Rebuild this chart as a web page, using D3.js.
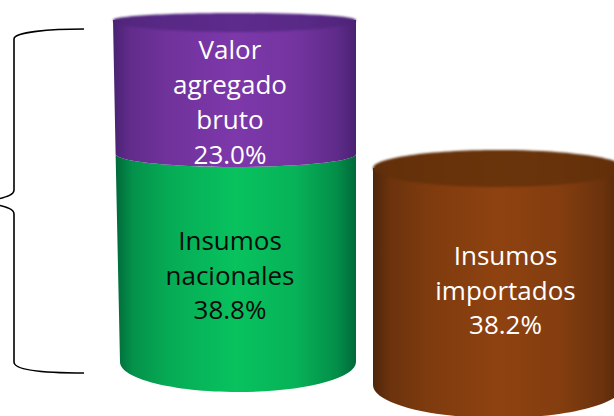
<!DOCTYPE html>
<html><head><meta charset="utf-8">
<script src="https://cdn.jsdelivr.net/npm/d3@7"></script>
<style>html,body{margin:0;padding:0;background:#fff;overflow:hidden}svg{display:block}text{font-family:"Open Sans",sans-serif}</style>
</head><body><svg id="c" width="614" height="416"></svg>
<script>
const stackLabels=[["Insumos","nacionales","38.8%"],["Valor","agregado","bruto","23.0%"]];
const stackValues=[38.8,23.0];
const soloLabels=[["Insumos","importados","38.2%"]];
const soloValues=[38.2];
const stackColors=[["#00693a","#08c25e"],["#4a2272","#7d38aa"]];
const soloColors=[["#4f260a","#8f4210"]];
const lidColors=[["#4c2374","#5d2b8c"],["#5e2d09","#6a340b"]];

const svg=d3.select("#c"),defs=svg.append("defs");
defs.append("filter").attr("id","soft").attr("x","-5%").attr("y","-20%").attr("width","110%").attr("height","140%")
  .attr("color-interpolation-filters","sRGB")
  .append("feGaussianBlur").attr("stdDeviation",0.9);
function grad(id,[d,l]){
  const mix=d3.interpolateRgb(d,l);
  const g=defs.append("linearGradient").attr("id",id);
  [[0,d],[.07,mix(.45)],[.22,mix(.74)],[.5,l],[.75,mix(.82)],[.92,mix(.42)],[1,d]].forEach(([o,c])=>g.append("stop").attr("offset",o).attr("stop-color",c));
}
function cylinder(cfg){
  const knots=d3.cumsum([0,...cfg.values]);
  const total=knots[knots.length-1];
  const y=d3.scaleLinear().domain(knots).range(cfg.levelY);
  const xL=d3.scaleLinear().domain([0,total]).range([cfg.baseL,cfg.topL]);
  const xR=d3.scaleLinear().domain([0,total]).range([cfg.baseR,cfg.topR]);
  const dip=d3.scaleLinear().domain(knots).range(cfg.levelDip);
  const k=.5523;
  cfg.values.forEach((v,i)=>{
    const a=knots[i],b=knots[i+1];
    const id=cfg.id+i;grad(id,cfg.colors[i]);
    const arc=(val,dir)=>{
      const l=xL(val),r=xR(val),m=(l+r)/2,h=(r-l)/2,yy=y(val),d=dip(val);
      return dir>0
       ?`C${l},${yy+d*k} ${m-h*k},${yy+d} ${m},${yy+d} C${m+h*k},${yy+d} ${r},${yy+d*k} ${r},${yy}`
       :`C${r},${yy+d*k} ${m+h*k},${yy+d} ${m},${yy+d} C${m-h*k},${yy+d} ${l},${yy+d*k} ${l},${yy}`;
    };
    const upper=i===cfg.values.length-1?`L${xR(b)},${y(b)}`:arc(b,1);
    const p=`M${xL(b)},${y(b)}${upper}L${xR(a)},${y(a)}${arc(a,-1)}Z`;
    svg.append("path").attr("d",p).attr("fill",`url(#${id})`);
  });
  const l=xL(total),r=xR(total),yy=y(total),m=(l+r)/2,h=(r-l)/2,d=dip(total),u=cfg.lidUp;
  const lidId=cfg.id+"lid";grad(lidId,cfg.lid);
  svg.append("path").attr("fill",`url(#${lidId})`).attr("filter","url(#soft)")
    .attr("d",`M${l},${yy}C${l},${yy-u*k} ${m-h*k},${yy-u} ${m},${yy-u}C${m+h*k},${yy-u} ${r},${yy-u*k} ${r},${yy}`+
      `C${r},${yy+d*k} ${m+h*k},${yy+d} ${m},${yy+d}C${m-h*k},${yy+d} ${l},${yy+d*k} ${l},${yy}Z`);
  cfg.values.forEach((v,i)=>{
    const [ty,lh,col]=cfg.text[i];
    cfg.labels[i].forEach((s,j)=>svg.append("text").attr("x",cfg.textX).attr("y",ty+j*lh)
      .attr("text-anchor","middle").attr("fill",col).attr("font-size",cfg.fs).text(s));
  });
  return y;
}
const yL=cylinder({id:"a",values:stackValues,labels:stackLabels,colors:stackColors,lid:lidColors[0],
  levelY:[362,154,20],baseL:120,topL:113,baseR:356,topR:356,levelDip:[30,13,12],lidUp:7,
  textX:230,fs:26,text:[[250,34.5,"#0b0b0b"],[58.5,35,"#fff"]]});
cylinder({id:"b",values:soloValues,labels:soloLabels,colors:soloColors,lid:lidColors[1],
  levelY:[385,168],baseL:373,topL:373,baseR:624,topR:624,levelDip:[33,19],lidUp:18,
  textX:505.5,fs:26,text:[[265,34.5,"#fff"]]});
const bTop=yL(d3.sum(stackValues))+9, bBot=yL(0)+11, bMid=yL(stackValues[0])+43;
svg.append("path").attr("fill","none").attr("stroke","#000").attr("stroke-width",1.6)
 .attr("d",`M84,${bTop}C50,${bTop} 14,${bTop+3} 14,${bTop+10}L14,${bMid-7}C14,${bMid-2} 6,${bMid} -2,${bMid+2}M-2,${bMid+8}C6,${bMid+10} 14,${bMid+12} 14,${bMid+17}L14,${bBot-11}C14,${bBot-2} 50,${bBot} 84,${bBot}`);
</script></body></html>
